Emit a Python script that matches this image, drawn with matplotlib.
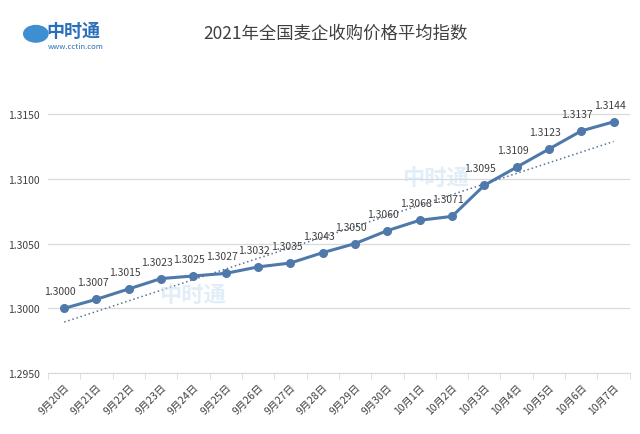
import numpy as np
import matplotlib
matplotlib.use("Agg")
from matplotlib import pyplot as plt
from matplotlib.patches import Circle

plt.rcParams['font.family'] = ['Noto Sans CJK SC', 'DejaVu Sans']

# data
dates = ['9月20日', '9月21日', '9月22日', '9月23日', '9月24日', '9月25日',
         '9月26日', '9月27日', '9月28日', '9月29日', '9月30日', '10月1日',
         '10月2日', '10月3日', '10月4日', '10月5日', '10月6日', '10月7日']
index = [1.3000, 1.3007, 1.3015, 1.3023, 1.3025, 1.3027,
         1.3032, 1.3035, 1.3043, 1.3050, 1.3060, 1.3068,
         1.3071, 1.3095, 1.3109, 1.3123, 1.3137, 1.3144]
yticks = [1.2950, 1.3000, 1.3050, 1.3100, 1.3150]

line_col = '#4f79aa'
txt_col = '#404040'

fig = plt.figure(figsize=(6.4, 4.35), dpi=100)
ax = fig.add_axes([0.075, 0.14, 0.909, 0.655])

x = np.arange(len(dates))
ax.plot(x, index, color=line_col, lw=2.2, marker='o', ms=5.5, zorder=3)

# linear trend line (dotted)
k, b = np.polyfit(x, index, 1)
ax.plot(x, k * x + b, color='#5a7498', lw=1.1, ls=(0, (1, 1.8)), zorder=2)

for xi, v in zip(x, index):
    ax.annotate('%.4f' % v, (xi, v), xytext=(-4, 17), textcoords='offset pixels',
                ha='center', va='center', fontsize=7.5, color=txt_col, zorder=4)

ax.set_xlim(-0.5, len(dates) - 0.5)
ax.set_ylim(1.2950, 1.3170)
ax.set_yticks(yticks)
ax.set_yticklabels(['%.4f' % t for t in yticks], fontsize=7.5, color=txt_col)
ax.yaxis.grid(True, color='#d9d9d9', lw=0.9)
ax.set_axisbelow(True)
ax.tick_params(axis='y', length=0, pad=6)

ax.set_xticks(x)
ax.set_xticklabels(dates, rotation=45, ha='right', rotation_mode='anchor',
                   fontsize=7.5, color=txt_col)
ax.set_xticks(np.arange(len(dates) + 1) - 0.5, minor=True)
ax.tick_params(axis='x', which='major', length=0, pad=6)
ax.tick_params(axis='x', which='minor', length=4, color='#d9d9d9')

for s in ['top', 'right', 'left']:
    ax.spines[s].set_visible(False)
ax.spines['bottom'].set_color('#d9d9d9')

fig.text(0.524, 0.922, '2021年全国麦企收购价格平均指数', ha='center', va='center',
         fontsize=12.5, color='#404040')

# logo top left
fig.patches.append(Circle((0.056, 0.92), 0.019, transform=fig.transFigure,
                          color='#3d8fd1', zorder=5))
fig.text(0.072, 0.928, '中时通', fontsize=13, color='#2a6fba', weight='bold',
         ha='left', va='center')
fig.text(0.075, 0.893, 'www.cctin.com', fontsize=5.5, color='#2a6fba',
         ha='left', va='center')

# faint watermarks
for wx, wy in [(0.3, 0.32), (0.68, 0.59)]:
    fig.text(wx, wy, '中时通', fontsize=16, color='#cfe3f3', weight='bold',
             ha='center', va='center', alpha=0.6, zorder=0)

fig.savefig('out.png', dpi=100)
